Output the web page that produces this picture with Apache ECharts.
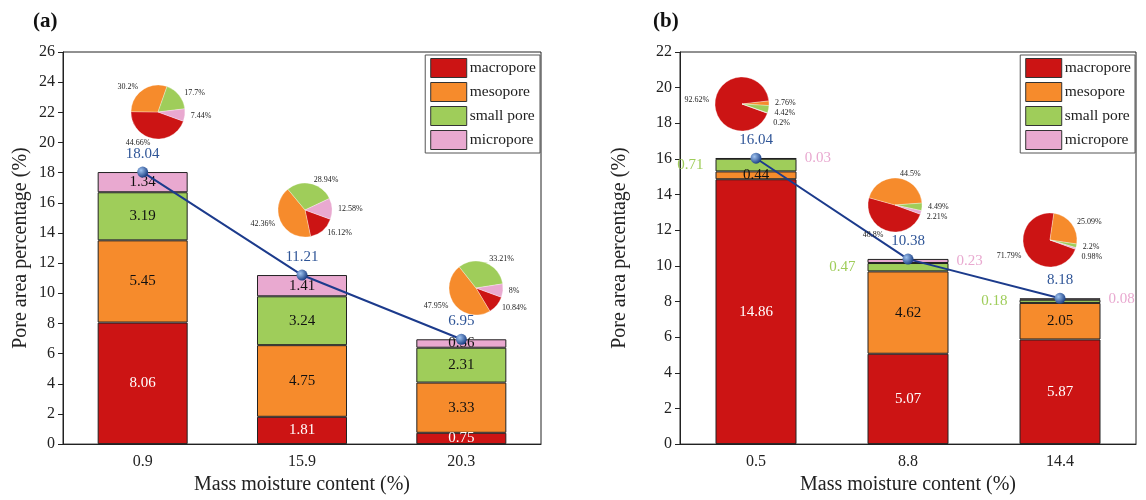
<!DOCTYPE html>
<html>
<head>
<meta charset="utf-8">
<script src="https://cdn.jsdelivr.net/npm/echarts@6/dist/echarts.min.js"></script>
<style>
  html, body { margin: 0; padding: 0; background: #fff; }
  #container { width: 1146px; height: 500px; }
</style>
</head>
<body>
<div id="container"></div>
<script type="text/javascript">
    // panel (a)
    var catA = ['0.9', '15.9', '20.3'];
    var macroA = [8.06, 1.81, 0.75];
    var mesoA = [5.45, 4.75, 3.33];
    var smallA = [3.19, 3.24, 2.31];
    var microA = [1.34, 1.41, 0.56];
    var totalA = [18.04, 11.21, 6.95];
    // panel (b)
    var catB = ['0.5', '8.8', '14.4'];
    var macroB = [14.86, 5.07, 5.87];
    var mesoB = [0.44, 4.62, 2.05];
    var smallB = [0.71, 0.47, 0.18];
    var microB = [0.03, 0.23, 0.08];
    var totalB = [16.04, 10.38, 8.18];
    // pie shares (%) : macro, meso, small, micro
    var pieA = [[44.66, 30.2, 17.7, 7.44], [16.12, 42.36, 28.94, 12.58], [10.84, 47.95, 33.21, 8]];
    var pieB = [[92.62, 2.76, 4.42, 0.2], [48.8, 44.5, 4.49, 2.21], [71.79, 25.09, 2.2, 0.98]];
    var yTicksA = [0, 26, 2];
    var yTicksB = [0, 22, 2];

    var names = ['macropore', 'mesopore', 'small pore', 'micropore'];
    var colors = ['#cc1414', '#f68b2c', '#9fcd5a', '#e9a9d0'];
    var font = '"Liberation Serif", "DejaVu Serif", serif';

    var dom = document.getElementById('container');
    var myChart = echarts.init(dom);

    function barSeries(name, idx, data, axis, barW, labelOpt) {
        var lab = {
            show: true, position: 'inside', fontFamily: font, fontSize: 15,
            color: idx === 0 ? '#fff' : '#111'
        };
        if (labelOpt) { Object.assign(lab, labelOpt); }
        return {
            name: name, type: 'bar', stack: 'p' + axis, data: data,
            xAxisIndex: axis, yAxisIndex: axis, barWidth: barW,
            itemStyle: { color: colors[idx], borderColor: '#222', borderWidth: 1 },
            label: lab
        };
    }

    function lineSeries(data, axis) {
        return {
            type: 'line', data: data, xAxisIndex: axis, yAxisIndex: axis, z: 5,
            symbol: 'circle', symbolSize: 11,
            lineStyle: { color: '#1c3b8c', width: 2 },
            itemStyle: {
                color: new echarts.graphic.RadialGradient(0.35, 0.35, 0.7, [
                    { offset: 0, color: '#9fc3f0' }, { offset: 1, color: '#163a80' }
                ]),
                borderWidth: 0
            },
            label: { show: true, position: 'top', distance: 5, fontFamily: font, fontSize: 15, color: '#2f5597' }
        };
    }

    function pieSeries(vals, center) {
        return {
            type: 'pie', radius: 27, center: center, startAngle: -20, z: 10,
            silent: true,
            label: { show: true, position: 'outside', formatter: '{c}%', fontFamily: font, fontSize: 8, color: '#222', distanceToLabelLine: 0 },
            labelLine: { show: false, length: 4, length2: 2 },
            itemStyle: { borderColor: 'rgba(255,255,255,0.6)', borderWidth: 0.5 },
            data: vals.map(function (v, i) { return { value: v, name: names[i] + ' ', itemStyle: { color: colors[i] } }; })
        };
    }

    function yAxis(idx, t, nameGap) {
        return {
            type: 'value', gridIndex: idx, min: t[0], max: t[1], interval: t[2],
            name: 'Pore area percentage (%)', nameLocation: 'middle', nameGap: nameGap,
            nameTextStyle: { fontFamily: font, fontSize: 20, color: '#222' },
            axisLine: { show: true, lineStyle: { color: '#222' } },
            axisTick: { show: true, length: 5, lineStyle: { color: '#222' } },
            axisLabel: { fontFamily: font, fontSize: 16, color: '#222', margin: 8 },
            splitLine: { show: false }
        };
    }

    function xAxis(idx, cats) {
        return {
            type: 'category', gridIndex: idx, data: cats,
            name: 'Mass moisture content (%)', nameLocation: 'middle', nameGap: 30,
            nameTextStyle: { fontFamily: font, fontSize: 20, color: '#222' },
            axisLine: { lineStyle: { color: '#222' } },
            axisTick: { alignWithLabel: true, length: 6, lineStyle: { color: '#222' } },
            axisLabel: { fontFamily: font, fontSize: 16, color: '#222', margin: 10 }
        };
    }

    function legend(right) {
        return {
            data: names, orient: 'vertical', right: right, top: 55,
            icon: 'rect', itemWidth: 36, itemHeight: 19, itemGap: 4,
            padding: [3, 4, 3, 5], borderColor: '#555', borderWidth: 1,
            itemStyle: { borderColor: '#333', borderWidth: 1 },
            textStyle: { fontFamily: font, fontSize: 15.5, color: '#222', padding: [0, 0, 0, -2] },
            selectedMode: false
        };
    }

    var option = {
        animation: false,
        title: [
            { text: '(a)', left: 28, top: 6, textStyle: { fontFamily: font, fontSize: 21, fontWeight: 'bold', color: '#111' } },
            { text: '(b)', left: 648, top: 6, textStyle: { fontFamily: font, fontSize: 21, fontWeight: 'bold', color: '#111' } }
        ],
        legend: [legend(606), legend(11)],
        grid: [
            { left: 63, right: 605, top: 52, bottom: 51, show: true, borderColor: '#222', borderWidth: 1 },
            { left: 680, right: 10, top: 52, bottom: 51, show: true, borderColor: '#222', borderWidth: 1 }
        ],
        xAxis: [xAxis(0, catA), xAxis(1, catB)],
        yAxis: [yAxis(0, yTicksA, 32), yAxis(1, yTicksB, 50)],
        series: [
            barSeries(names[0], 0, macroA, 0, 90),
            barSeries(names[1], 1, mesoA, 0, 90),
            barSeries(names[2], 2, smallA, 0, 90),
            barSeries(names[3], 3, microA, 0, 90),
            lineSeries(totalA, 0),
            barSeries(names[0], 0, macroB, 1, 81),
            barSeries(names[1], 1, mesoB, 1, 81),
            barSeries(names[2], 2, smallB, 1, 81, { position: 'left', distance: 12, color: '#9fcd5a' }),
            barSeries(names[3], 3, microB, 1, 81, { position: 'right', distance: 8, color: '#e9a9d0' }),
            lineSeries(totalB, 1),
            pieSeries(pieA[0], [158, 112]),
            pieSeries(pieA[1], [305, 210]),
            pieSeries(pieA[2], [476, 288]),
            pieSeries(pieB[0], [742, 104]),
            pieSeries(pieB[1], [895, 205]),
            pieSeries(pieB[2], [1050, 240])
        ]
    };

    if (option && typeof option === 'object') {
        myChart.setOption(option);
    }
</script>
</body>
</html>
